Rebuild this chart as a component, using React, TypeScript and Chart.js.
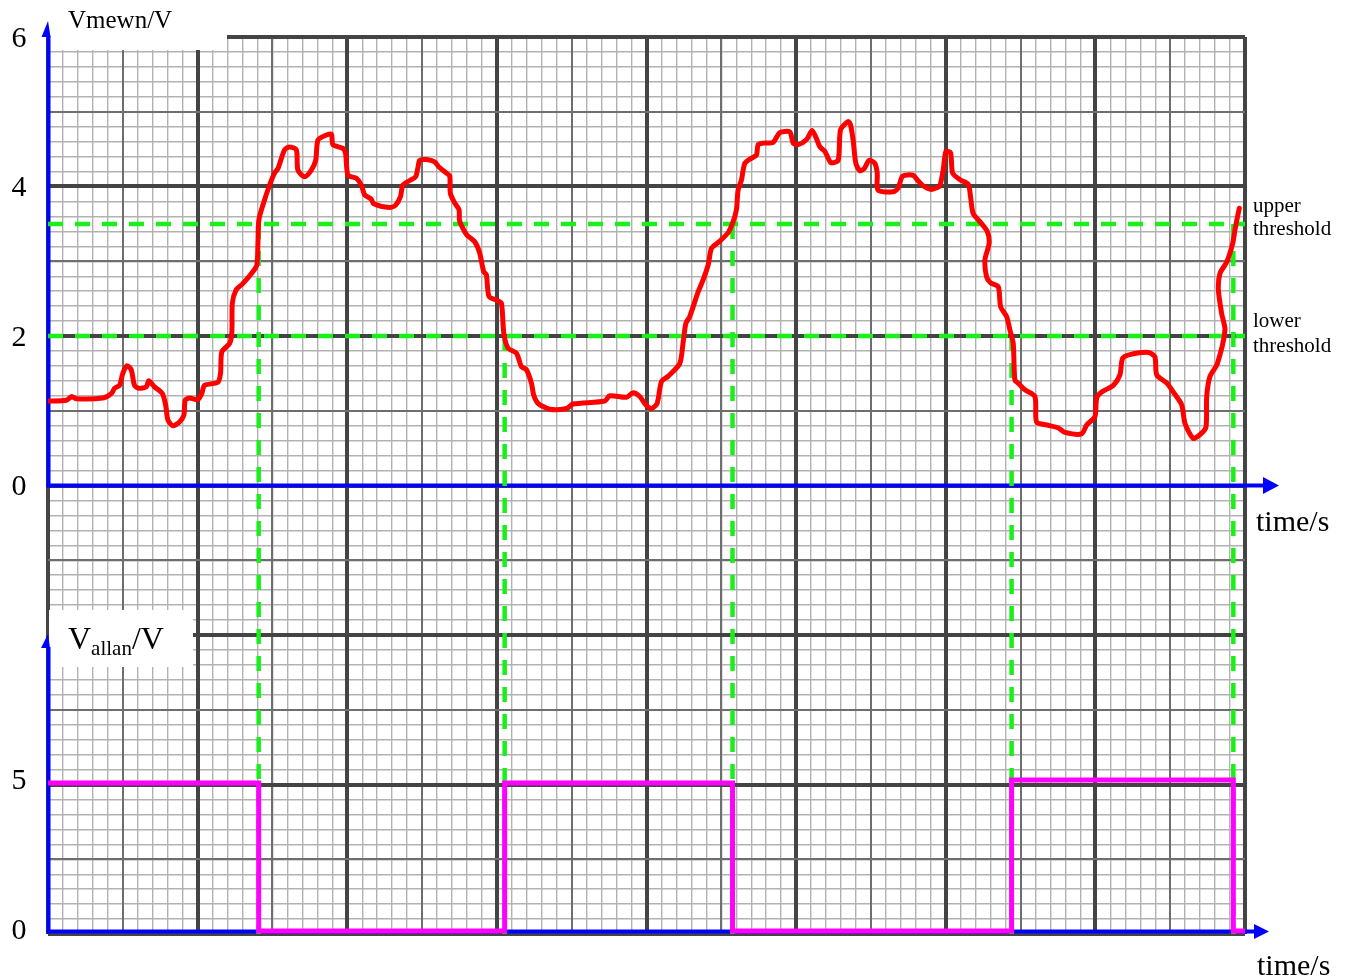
import React, { useEffect, useRef } from "react";
import { Chart, registerables } from "chart.js";

Chart.register(...registerables);

// time axis measured in small grid divisions (no numeric time ticks in the original)
const timeRange = [0, 80];
const gridRows = [0, 60];
const vmewnRange = [-6, 6];
const vallanRange = [0, 30];
const vmewnTicks = [0, 2, 4, 6];
const vallanTicks = [0, 5];
const thresholdLevels = [3.5, 2];
const thresholdLabels = [["upper", "threshold"], ["lower", "threshold"]];

// input signal Vmewn: [time, volts]
const vmewnSamples: [number, number][] = [
  [0, 1.13], [1.22, 1.14], [1.59, 1.19], [1.89, 1.16], [3.66, 1.17], [4.23, 1.23], [4.45, 1.3], [4.78, 1.34],
  [5.0, 1.5], [5.27, 1.6], [5.56, 1.55], [5.78, 1.34], [6.07, 1.3], [6.57, 1.32], [6.74, 1.4], [7.12, 1.32],
  [7.64, 1.23], [7.86, 1.08], [8.01, 0.88], [8.34, 0.8], [8.79, 0.85], [9.08, 0.94], [9.17, 1.14], [9.46, 1.17],
  [10.02, 1.15], [10.28, 1.23], [10.46, 1.34], [11.35, 1.38], [11.53, 1.5], [11.62, 1.79], [12.14, 1.9], [12.29, 2.06],
  [12.32, 2.44], [12.58, 2.62], [13.02, 2.7], [13.69, 2.86], [13.96, 2.95], [14.03, 3.24], [14.09, 3.55], [14.36, 3.75],
  [14.81, 4.02], [15.14, 4.18], [15.37, 4.24], [15.81, 4.49], [16.15, 4.53], [16.6, 4.49], [16.7, 4.22], [17.15, 4.13],
  [17.6, 4.22], [17.89, 4.35], [18.04, 4.62], [18.49, 4.68], [18.94, 4.7], [19.04, 4.56], [19.71, 4.51], [19.89, 4.44],
  [20.05, 4.15], [20.61, 4.11], [20.94, 4.02], [21.16, 3.89], [21.61, 3.83], [21.76, 3.77], [22.83, 3.72], [23.23, 3.75],
  [23.55, 3.86], [23.72, 4.02], [24.17, 4.08], [24.57, 4.13], [24.73, 4.26], [24.84, 4.35], [25.29, 4.36], [25.84, 4.33],
  [26.13, 4.26], [26.62, 4.18], [26.85, 4.14], [26.89, 3.91], [27.18, 3.78], [27.47, 3.69], [27.5, 3.55], [27.73, 3.44],
  [28.0, 3.35], [28.52, 3.26], [28.85, 3.11], [29.12, 2.86], [29.3, 2.82], [29.47, 2.53], [29.97, 2.48], [30.3, 2.44],
  [30.46, 2.04], [30.74, 1.84], [31.31, 1.77], [31.64, 1.59], [31.97, 1.55], [32.31, 1.37], [32.46, 1.21], [32.75, 1.1],
  [33.53, 1.02], [34.65, 1.03], [35.09, 1.09], [37.21, 1.13], [37.54, 1.2], [38.66, 1.18], [39.1, 1.24], [39.55, 1.19],
  [39.95, 1.08], [40.33, 1.03], [40.71, 1.1], [41.0, 1.39], [41.44, 1.46], [42.22, 1.63], [42.44, 1.9], [42.63, 2.17],
  [42.89, 2.26], [43.45, 2.59], [43.78, 2.75], [44.12, 2.95], [44.34, 3.17], [44.78, 3.25], [45.45, 3.38], [45.79, 3.53],
  [46.01, 3.69], [46.12, 3.95], [46.35, 4.09], [46.57, 4.31], [47.02, 4.38], [47.35, 4.42], [47.46, 4.56], [47.79, 4.58],
  [48.46, 4.59], [48.91, 4.72], [49.58, 4.73], [49.8, 4.58], [50.13, 4.56], [50.7, 4.63], [51.07, 4.75], [51.36, 4.64],
  [51.59, 4.53], [51.92, 4.47], [52.32, 4.32], [52.81, 4.35], [52.97, 4.76], [53.48, 4.87], [53.64, 4.82], [53.81, 4.62],
  [53.99, 4.31], [54.26, 4.21], [54.55, 4.24], [54.88, 4.35], [55.26, 4.31], [55.42, 4.18], [55.48, 3.95], [56.49, 3.93],
  [56.82, 3.98], [57.12, 4.14], [57.82, 4.15], [58.09, 4.09], [58.49, 4.01], [59.05, 3.96], [59.49, 3.99], [59.61, 4.01],
  [59.83, 4.22], [60.01, 4.47], [60.32, 4.45], [60.46, 4.18], [60.95, 4.09], [61.5, 4.03], [61.66, 3.86], [61.83, 3.64],
  [62.28, 3.53], [62.77, 3.4], [62.9, 3.24], [62.62, 3.02], [62.73, 2.79], [63.0, 2.71], [63.51, 2.66], [63.67, 2.39],
  [64.07, 2.26], [64.29, 2.08], [64.51, 1.9], [64.62, 1.41], [64.84, 1.37], [65.29, 1.28], [65.96, 1.19], [66.07, 0.85],
  [66.74, 0.81], [67.52, 0.77], [67.97, 0.71], [69.08, 0.69], [69.42, 0.81], [69.97, 0.92], [70.09, 1.17], [70.42, 1.25],
  [71.2, 1.34], [71.64, 1.48], [71.82, 1.7], [72.31, 1.75], [73.54, 1.78], [73.98, 1.72], [74.1, 1.48], [74.77, 1.37],
  [75.21, 1.25], [75.77, 1.08], [75.99, 0.83], [76.54, 0.63], [76.99, 0.68], [77.39, 0.78], [77.44, 1.19], [77.66, 1.46],
  [78.15, 1.63], [78.66, 2.08], [78.44, 2.3], [78.22, 2.62], [78.33, 2.84], [78.78, 2.99], [79.18, 3.24], [79.33, 3.42],
  [79.45, 3.55], [79.62, 3.71],
];

// threshold crossings
const crossingTimes = [14.08, 30.52, 45.75, 64.4, 79.22];
const crossingLevels = [3.5, 2, 3.5, 2, 3.5];

// output signal Vallan (square wave)
const vallanEdges = [0, 14.08, 30.52, 45.75, 64.4, 79.22, 80];
const vallanLevels = [5.05, 0.1, 5.05, 0.1, 5.15, 0.1];

const SERIF = '"Liberation Serif", "Times New Roman", serif';
const GREEN = "#19f019";

function gridLevel(v: number, major: number, medium: number) {
  const r = Math.round(v);
  if (r % major === 0) return 2;
  if (r % medium === 0) return 1;
  return 0;
}

const decorPlugin = {
  id: "decor",
  beforeDatasetsDraw(chart: any) {
    const { ctx } = chart;
    const xs = chart.scales.x;
    const yT = chart.scales.yTop;
    const yB = chart.scales.yBot;
    const x0 = xs.getPixelForValue(timeRange[0]) + 0.5;
    const xEnd = xs.getPixelForValue(timeRange[1]);
    const yt0 = yT.getPixelForValue(0);
    const yb0 = yB.getPixelForValue(0) - 2.5;
    ctx.save();
    // white label boxes over the graph paper
    ctx.fillStyle = "#ffffff";
    ctx.fillRect(x0 + 1.5, 0, 177, 50);
    ctx.fillRect(x0 + 0.5, 610, 144, 57);

    ctx.strokeStyle = "#0000ff";
    ctx.fillStyle = "#0000ff";
    ctx.lineWidth = 4;
    ctx.lineCap = "butt";
    const line = (a: number, b: number, c: number, d: number) => {
      ctx.beginPath();
      ctx.moveTo(a, b);
      ctx.lineTo(c, d);
      ctx.stroke();
    };
    const tri = (pts: number[][]) => {
      ctx.beginPath();
      ctx.moveTo(pts[0][0], pts[0][1]);
      for (let i = 1; i < pts.length; i++) ctx.lineTo(pts[i][0], pts[i][1]);
      ctx.closePath();
      ctx.fill();
    };
    // top chart axes
    line(x0, yt0 + 2, x0, 36);
    tri([[x0 - 7, 37], [x0 - 0.5, 21], [x0 + 2, 37]]);
    line(x0 - 2, yt0, xEnd + 18, yt0);
    tri([[xEnd + 18, yt0 - 8.5], [xEnd + 34, yt0], [xEnd + 18, yt0 + 8.5]]);
    // bottom chart axes
    line(x0, yb0 + 2, x0, 647);
    tri([[x0 - 7.5, 648], [x0 - 0.5, 634], [x0 + 1.5, 648]]);
    line(x0 - 2, yb0, xEnd + 9, yb0);
    tri([[xEnd + 9, yb0 - 7.5], [xEnd + 24, yb0], [xEnd + 9, yb0 + 7.5]]);
    ctx.restore();
  },
  afterDraw(chart: any) {
    const { ctx } = chart;
    const xs = chart.scales.x;
    const yT = chart.scales.yTop;
    const yB = chart.scales.yBot;
    const xEnd = xs.getPixelForValue(timeRange[1]);
    ctx.save();
    ctx.fillStyle = "#000000";
    ctx.textAlign = "center";
    ctx.textBaseline = "middle";
    ctx.font = `30px ${SERIF}`;
    vmewnTicks.forEach((t) => ctx.fillText(String(t), 19, yT.getPixelForValue(t) + 2));
    vallanTicks.forEach((t) => ctx.fillText(String(t), 19, yB.getPixelForValue(t) - 3));

    ctx.textAlign = "left";
    ctx.textBaseline = "alphabetic";
    // axis titles
    ctx.font = `25px ${SERIF}`;
    ctx.fillText("Vmewn/V", 68, 28);
    ctx.font = `32px ${SERIF}`;
    ctx.fillText("V", 68, 649);
    const wV = ctx.measureText("V").width;
    ctx.font = `21px ${SERIF}`;
    ctx.fillText("allan", 68 + wV, 655);
    const wSub = ctx.measureText("allan").width;
    ctx.font = `32px ${SERIF}`;
    ctx.fillText("/V", 68 + wV + wSub, 649);

    ctx.font = `30px ${SERIF}`;
    ctx.fillText("time/s", xEnd + 11, yT.getPixelForValue(0) + 45);
    ctx.fillText("time/s", xEnd + 12, 975);

    // threshold labels
    ctx.font = `21px ${SERIF}`;
    const offs = [[-12, 11], [-9, 16]];
    thresholdLevels.forEach((lv, i) => {
      const py = yT.getPixelForValue(lv);
      ctx.fillText(thresholdLabels[i][0], xEnd + 8, py + offs[i][0]);
      ctx.fillText(thresholdLabels[i][1], xEnd + 8, py + offs[i][1]);
    });
    ctx.restore();
  },
};

export default function App() {
  const ref = useRef<HTMLCanvasElement | null>(null);

  useEffect(() => {
    if (!ref.current) return;

    const vallanPoints = [{ x: vallanEdges[0], y: vallanLevels[0] }];
    for (let i = 1; i < vallanLevels.length; i++) vallanPoints.push({ x: vallanEdges[i], y: vallanLevels[i] });
    vallanPoints.push({ x: vallanEdges[vallanEdges.length - 1], y: vallanLevels[vallanLevels.length - 1] });

    const dashed = {
      borderColor: GREEN,
      borderWidth: 4.5,
      borderDash: [15, 12],
      pointRadius: 0,
      fill: false,
      tension: 0,
      yAxisID: "yTop",
    };

    const datasets: any[] = [
      {
        label: "Vmewn",
        data: vmewnSamples.map(([x, y]) => ({ x, y })),
        borderColor: "#ff0000",
        borderWidth: 5,
        pointRadius: 0,
        tension: 0.25,
        borderJoinStyle: "round",
        borderCapStyle: "round",
        fill: false,
        yAxisID: "yTop",
      },
      {
        label: "Vallan",
        data: vallanPoints,
        borderColor: "#ff00ff",
        borderWidth: 5,
        pointRadius: 0,
        stepped: true,
        borderJoinStyle: "miter",
        fill: false,
        yAxisID: "yBot",
      },
      ...crossingTimes.map((t, i) => ({
        ...dashed,
        label: "crossing" + i,
        data: [
          { x: t, y: crossingLevels[i] },
          { x: t, y: vmewnRange[0] },
        ],
      })),
      ...thresholdLevels.map((lv, i) => ({
        ...dashed,
        label: "threshold" + i,
        data: [
          { x: timeRange[0], y: lv },
          { x: timeRange[1], y: lv },
        ],
      })),
    ];

    const minorGrid = {
      color: "#b2b2b2",
      lineWidth: 1.4,
      drawTicks: false,
      z: -2,
    };
    const hidden = { display: false as const };
    const majorColor = (c: any) => (gridLevel(c.tick.value, 10, 5) === 2 ? "#444444" : "#6e6e6e");
    const majorWidth = (c: any) => (gridLevel(c.tick.value, 10, 5) === 2 ? 4 : 2);

    const chart = new Chart(ref.current, {
      type: "line",
      data: { datasets },
      plugins: [decorPlugin],
      options: {
        animation: false,
        responsive: false,
        events: [],
        layout: { padding: { left: 48, right: 104, top: 37, bottom: 42 } },
        plugins: { legend: { display: false }, tooltip: { enabled: false }, title: { display: false } },
        scales: {
          x: {
            type: "linear",
            min: timeRange[0],
            max: timeRange[1],
            ticks: { display: false, stepSize: 1, autoSkip: false },
            grid: minorGrid,
            border: hidden,
          },
          y: {
            type: "linear",
            position: "left",
            min: gridRows[0],
            max: gridRows[1],
            ticks: { display: false, stepSize: 1, autoSkip: false },
            grid: minorGrid,
            border: hidden,
          },
          xMajor: {
            type: "linear",
            axis: "x",
            position: "bottom",
            min: timeRange[0],
            max: timeRange[1],
            ticks: { display: false, stepSize: 5, autoSkip: false },
            grid: { drawTicks: false, z: -1, color: majorColor, lineWidth: majorWidth },
            border: hidden,
          },
          yMajor: {
            type: "linear",
            axis: "y",
            position: "left",
            min: gridRows[0],
            max: gridRows[1],
            ticks: { display: false, stepSize: 5, autoSkip: false },
            grid: { drawTicks: false, z: -1, color: majorColor, lineWidth: majorWidth },
            border: hidden,
          },
          yTop: { type: "linear", display: false, min: vmewnRange[0], max: vmewnRange[1] },
          yBot: { type: "linear", display: false, min: vallanRange[0], max: vallanRange[1] },
        },
      } as any,
    });
    return () => chart.destroy();
  }, []);

  return (
    <div style={{ position: "absolute", left: 0, top: 0, width: 1349, height: 976, background: "#fff" }}>
      <canvas ref={ref} width={1349} height={976} style={{ display: "block" }} />
    </div>
  );
}
